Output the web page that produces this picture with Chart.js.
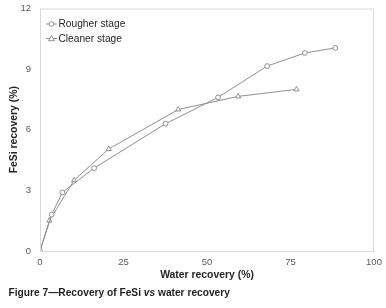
<!DOCTYPE html>
<html>
<head>
<meta charset="utf-8">
<script src="https://cdn.jsdelivr.net/npm/chart.js@4"></script>
<style>
  html, body { margin: 0; padding: 0; background: #fff; }
  #wrap { width: 386px; height: 308px; position: relative; }
</style>
</head>
<body>
<div id="wrap"><canvas id="chart"></canvas></div>
<script>
// data
const rougherX = [0, 3.5, 6.7, 16.2, 37.6, 53.3, 68.0, 79.3, 88.4];
const rougherY = [0, 1.8, 2.9, 4.1, 6.3, 7.6, 9.15, 9.8, 10.05];
const cleanerX = [0, 2.8, 10.2, 20.6, 41.4, 59.3, 76.8];
const cleanerY = [0, 1.5, 3.5, 5.05, 7.0, 7.65, 8.0];
const seriesNames = ['Rougher stage', 'Cleaner stage'];
const xTicks = [0, 25, 50, 75, 100];
const yTicks = [0, 3, 6, 9, 12];

const toPoints = (xs, ys) => xs.map((x, i) => ({ x: x, y: ys[i] }));
const FONT = '"Liberation Sans", Arial, sans-serif';
const LINE = '#8f8f8f';

// frame around the plot + legend inside it
const frameAndLegend = {
    id: 'frameAndLegend',
    afterDatasetsDraw(chart) {
        const { ctx, chartArea: { top, bottom, left, right } } = chart;
        ctx.save();
        ctx.strokeStyle = '#d9d9d9';
        ctx.lineWidth = 1;
        ctx.strokeRect(left + 0.5, top + 0.5, right - left - 1, bottom - top);

        ctx.font = '10.2px ' + FONT;
        ctx.textBaseline = 'middle';
        ctx.fillStyle = '#262626';
        chart.data.datasets.forEach((ds, i) => {
            const ly = 24 + i * 14.5;
            ctx.strokeStyle = LINE;
            ctx.lineWidth = 1;
            ctx.beginPath();
            ctx.moveTo(46, ly);
            ctx.lineTo(57, ly);
            ctx.stroke();
            ctx.fillStyle = '#fff';
            ctx.beginPath();
            if (ds.pointStyle === 'triangle') {
                ctx.moveTo(51.5, ly - 3);
                ctx.lineTo(54.5, ly + 2.2);
                ctx.lineTo(48.5, ly + 2.2);
                ctx.closePath();
            } else {
                ctx.arc(51.5, ly, 2.4, 0, Math.PI * 2);
            }
            ctx.fill();
            ctx.stroke();
            ctx.fillStyle = '#262626';
            ctx.fillText(ds.label, 58.5, ly + 0.5);
        });
        ctx.restore();
    }
};

// caption under the chart, "vs" in italics
const caption = {
    id: 'caption',
    afterDraw(chart) {
        const { ctx } = chart;
        ctx.save();
        ctx.fillStyle = '#231f20';
        ctx.textBaseline = 'middle';
        const y = 293;
        let x = 8.5;
        const parts = [
            ['bold', 'Figure 7\u2014Recovery of FeSi '],
            ['italic bold', 'vs'],
            ['bold', ' water recovery']
        ];
        parts.forEach(p => {
            ctx.font = p[0] + ' 10.2px ' + FONT;
            ctx.fillText(p[1], x, y);
            x += ctx.measureText(p[1]).width;
        });
        ctx.restore();
    }
};

const config = {
    type: 'line',
    data: {
        datasets: [{
            label: seriesNames[0],
            data: toPoints(rougherX, rougherY),
            borderColor: LINE,
            borderWidth: 1,
            pointStyle: 'circle',
            pointRadius: 2.4,
            pointBorderWidth: 1,
            pointBackgroundColor: '#fff',
            pointBorderColor: LINE,
            tension: 0
        }, {
            label: seriesNames[1],
            data: toPoints(cleanerX, cleanerY),
            borderColor: LINE,
            borderWidth: 1,
            pointStyle: 'triangle',
            pointRadius: 3,
            pointBorderWidth: 1,
            pointBackgroundColor: '#fff',
            pointBorderColor: LINE,
            tension: 0
        }]
    },
    options: {
        responsive: true,
        maintainAspectRatio: false,
        animation: false,
        layout: { padding: { top: 8.5, right: 12, left: 0, bottom: 0 } },
        plugins: {
            legend: { display: false },
            tooltip: { enabled: false }
        },
        scales: {
            x: {
                type: 'linear',
                min: 0,
                max: 100,
                grid: { display: false, drawTicks: false },
                border: { display: false },
                afterBuildTicks: s => { s.ticks = xTicks.map(v => ({ value: v })); },
                afterFit: s => { s.height = 57; s.paddingLeft = 0; s.paddingRight = 0; },
                ticks: {
                    padding: 6,
                    color: '#595959',
                    font: { family: FONT, size: 9.5 }
                },
                title: {
                    display: true,
                    text: 'Water recovery (%)',
                    color: '#262626',
                    font: { family: FONT, size: 10.4, weight: 'bold' },
                    padding: { top: 0, bottom: 27 }
                }
            },
            y: {
                type: 'linear',
                min: 0,
                max: 12,
                grid: { display: false, drawTicks: false },
                border: { display: false },
                afterBuildTicks: s => { s.ticks = yTicks.map(v => ({ value: v })); },
                afterFit: s => { s.width = 40; s.paddingTop = 0; s.paddingBottom = 0; },
                ticks: {
                    padding: 9,
                    color: '#595959',
                    font: { family: FONT, size: 9.5 }
                },
                title: {
                    display: true,
                    text: 'FeSi recovery (%)',
                    color: '#262626',
                    font: { family: FONT, size: 10.4, weight: 'bold' },
                    padding: { top: 8, bottom: 0 }
                }
            }
        }
    },
    plugins: [frameAndLegend, caption]
};

new Chart(document.getElementById('chart'), config);
</script>
</body>
</html>
